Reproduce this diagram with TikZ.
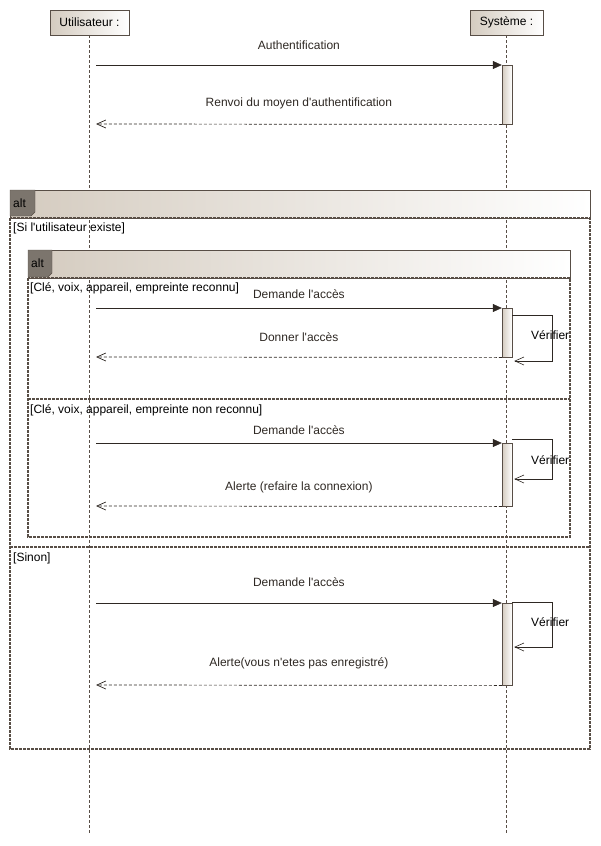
\documentclass[tikz,border=0pt]{standalone}
\usepackage{fontspec}
\setmainfont{Liberation Sans}[Ligatures=TeXOff]
\usetikzlibrary{arrows.meta,positioning}
\definecolor{frame}{RGB}{88,78,70}
\definecolor{ink}{RGB}{46,40,35}
\definecolor{tan}{RGB}{212,203,191}
\definecolor{tagfill}{RGB}{124,117,109}

\begin{document}
\begin{tikzpicture}[
  x=1pt, y=-1pt,
  font=\fontsize{12}{14}\selectfont,
  lifebox/.style={rectangle, draw=frame, left color=tan, right color=white,
                  minimum height=25pt, inner sep=0pt},
  actbar/.style={rectangle, draw=frame, left color=tan, right color=white,
                 minimum width=10pt, anchor=north, inner sep=0pt},
  lifeline/.style={draw=frame, line width=0.6pt, dash pattern=on 3pt off 2pt},
  body/.style={draw=frame, line width=1.3pt, dash pattern=on 3pt off 1pt},
  band/.style={draw=frame, left color=tan, right color=white},
  tag/.style={fill=tagfill, draw=frame},
  guard/.style={anchor=west, inner sep=0pt},
  msg/.style={-{Triangle[length=9pt,width=8pt]}, ink, line width=0.6pt},
  ret/.style={-{Straight Barb[length=9pt,width=8pt]}, ink, line width=0.7pt,
              dash pattern=on 3pt off 2pt},
  self/.style={-{Straight Barb[length=9pt,width=8pt]}, ink, line width=0.6pt},
  lbl/.style={midway, yshift=#1}, lbl/.default=20pt
]
  \useasboundingbox (0,0) rectangle (601,846);

  % lifelines
  \node[lifebox, minimum width=79pt] (user) at (89.5,22.5) {Utilisateur :};
  \node[lifebox, minimum width=73pt] (sys)  at (506.5,22.5) {Système :};
  \draw[lifeline] (user.south) -- (user.south |- 0,835);
  \draw[lifeline] (sys.south) -- (sys.south |- 0,835);

  % outer alt
  \draw[band] (10,190) rectangle (590,218);
  \draw[body] (10,218) rectangle (590,749);
  \draw[body] (10,547) -- (590,547);
  \draw[tag] (10,190) -- (35,190) -- (35,212) -- (31,216) -- (10,216) -- cycle;
  \node[guard] (alt1) at (13,203) {alt};
  \node[guard] (g1) at (13,228) {[Si l'utilisateur existe]};
  \node[guard] (g4) at (13,558) {[Sinon]};

  % inner alt
  \draw[band] (28,250) rectangle (570,278);
  \draw[body] (28,278) rectangle (570,537);
  \draw[body] (28,399) -- (570,399);
  \draw[tag] (28,250) -- (52,250) -- (52,273) -- (48,277) -- (28,277) -- cycle;
  \node[guard] (alt2) at (31,263) {alt};
  \node[guard] (g2) at (30,288) {[Clé, voix, appareil, empreinte reconnu]};
  \node[guard] (g3) at (30,410) {[Clé, voix, appareil, empreinte non reconnu]};

  % activations
  \node[actbar, minimum height=59pt] (act1) at (507,65) {};
  \node[actbar, minimum height=49pt] (act2) at (507,308) {};
  \node[actbar, minimum height=63pt] (act3) at (507,443) {};
  \node[actbar, minimum height=82pt] (act4) at (507,603) {};

  \coordinate (u1) at (96,65);
  \coordinate (u2) at (96,124);
  \coordinate (u3) at (96,308);
  \coordinate (u4) at (96,357);
  \coordinate (u5) at (96,443);
  \coordinate (u6) at (96,506);
  \coordinate (u7) at (96,603);
  \coordinate (u8) at (96,685);

  % messages
  \draw[msg] (u1) -- node[lbl]{Authentification} (act1.north west);
  \draw[ret] (act1.south west) -- node[lbl=21pt]{Renvoi du moyen d'authentification} (u2);

  \draw[msg] (u3) -- node[lbl=14pt]{Demande l'accès} (act2.north west);
  \draw[self] ([yshift=-7pt]act2.north east) -- ++(40,0) -- ++(0,46) -- ++(-38,0);
  \node[guard] (vrf1) at (531,335) {Vérifier};
  \draw[ret] (act2.south west) -- node[lbl]{Donner l'accès} (u4);

  \draw[msg] (u5) -- node[lbl=13pt]{Demande l'accès} (act3.north west);
  \draw[self] ([yshift=4pt]act3.north east) -- ++(40,0) -- ++(0,40) -- ++(-38,0);
  \node[guard] (vrf2) at (531,460) {Vérifier};
  \draw[ret] (act3.south west) -- node[lbl=19pt]{Alerte (refaire la connexion)} (u6);

  \draw[msg] (u7) -- node[lbl=21pt]{Demande l'accès} (act4.north west);
  \draw[self] ([yshift=1pt]act4.north east) -- ++(40,0) -- ++(0,45) -- ++(-38,0);
  \node[guard] (vrf3) at (531,622) {Vérifier};
  \draw[ret] (act4.south west) -- node[lbl=22pt]{Alerte(vous n'etes pas enregistré)} (u8);
\end{tikzpicture}
\end{document}
